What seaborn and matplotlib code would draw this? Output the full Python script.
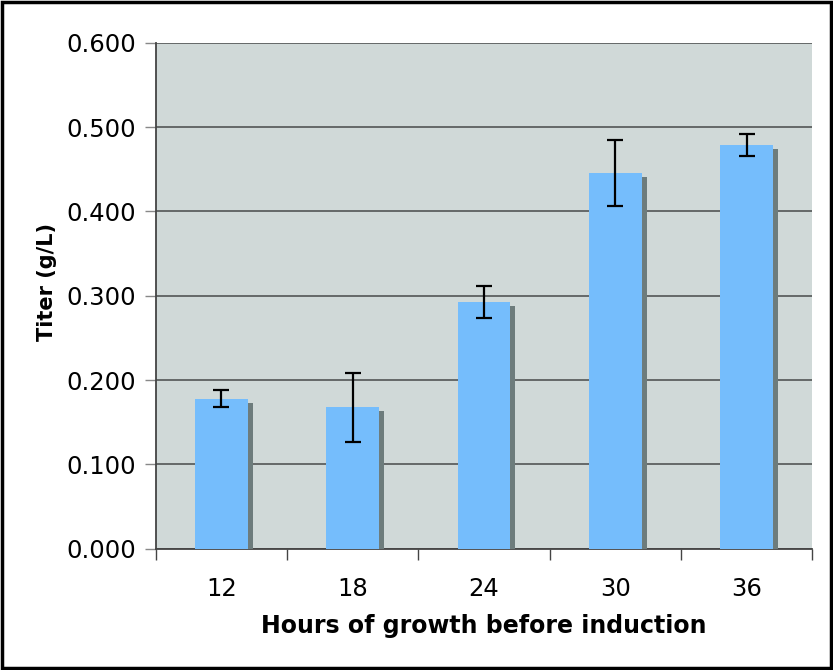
import matplotlib
matplotlib.use("Agg")
import matplotlib.pyplot as plt
import matplotlib.patheffects as pe
from matplotlib.patches import Rectangle
import numpy as np
import pandas as pd
import seaborn as sns

hours = ["12", "18", "24", "30", "36"]
titer = [0.178, 0.168, 0.293, 0.446, 0.479]
titer_err = [0.010, 0.041, 0.019, 0.039, 0.013]

df = pd.DataFrame({"hours": hours, "titer": titer})

sns.set_theme(style="white")
plt.rcParams["font.family"] = ["DejaVu Sans"]

fig = plt.figure(figsize=(8.33, 6.70), dpi=100)
ax = fig.add_axes([0.187, 0.181, 0.788, 0.755])
ax.set_facecolor("#d0d9d8")

sns.barplot(data=df, x="hours", y="titer", color="#75bdfc", saturation=1,
            width=0.4, ax=ax, zorder=3)
for bar in ax.patches:
    bar.set_edgecolor("none")
    bar.set_path_effects([pe.SimplePatchShadow(offset=(3.6, -2.9),
                                               shadow_rgbFace="#6d7c7c", alpha=1.0),
                          pe.Normal()])

ax.errorbar(np.arange(len(hours)), titer, yerr=titer_err, fmt="none",
            ecolor="black", elinewidth=1.6, capsize=6, capthick=1.6, zorder=5)

ax.set_ylim(0, 0.6)
ax.set_xlim(-0.5, len(hours) - 0.5)
ax.set_yticks(np.arange(0, 0.61, 0.1))
ax.set_yticklabels([f"{v:.3f}" for v in np.arange(0, 0.61, 0.1)])
ax.yaxis.grid(True, color="#5c6060", linewidth=1.3, zorder=0)
ax.set_axisbelow(True)

# category ticks sit between bars
ax.set_xticks(np.arange(-0.5, len(hours)), minor=True)
ax.tick_params(axis="x", which="minor", length=8, width=1, color="#444444", bottom=True)
ax.tick_params(axis="x", which="major", length=0, labelsize=17.5, pad=20, colors="black")
ax.tick_params(axis="y", which="major", length=8, width=1, color="#888888", left=True,
               labelsize=17.5, pad=6, colors="black")

for side in ["top", "right"]:
    ax.spines[side].set_visible(False)
for side in ["left", "bottom"]:
    ax.spines[side].set_color("#444444")
    ax.spines[side].set_linewidth(1.3)

ax.set_xlabel("Hours of growth before induction", fontsize=17, fontweight="bold",
              labelpad=10, color="black")
ax.set_ylabel("Titer (g/L)", fontsize=15, fontweight="bold", color="black")
ax.yaxis.set_label_coords(-0.151, 0.528)

fig.patches.append(Rectangle((0.002, 0.003), 0.995, 0.994, transform=fig.transFigure,
                             fill=False, edgecolor="black", linewidth=2.5))

fig.savefig("out.png", dpi=100)
